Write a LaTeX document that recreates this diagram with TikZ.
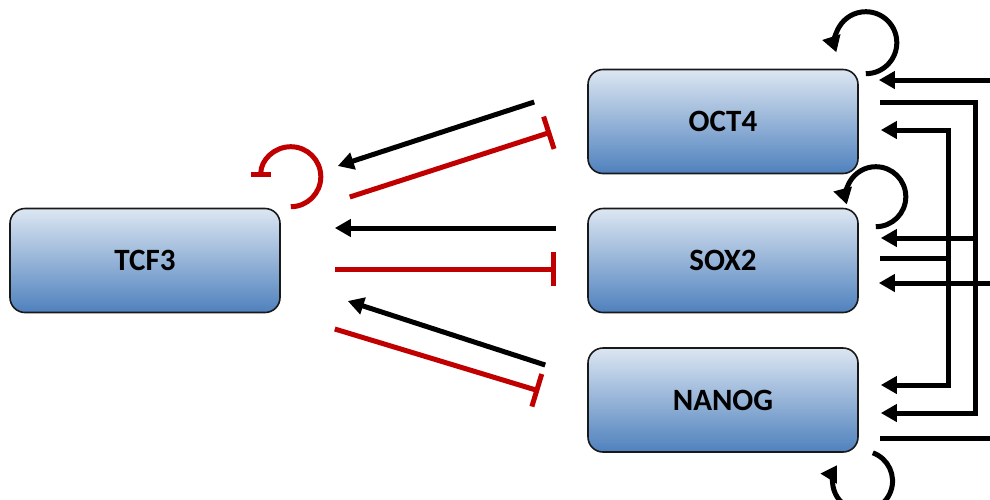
\documentclass[tikz,border=0pt]{standalone}
\usepackage{fontspec}
\setmainfont{Carlito}
\usetikzlibrary{arrows.meta,calc}
\definecolor{redi}{HTML}{C00000}
\definecolor{boxtop}{HTML}{DCE6F2}
\definecolor{boxmid}{HTML}{B6C8E1}
\definecolor{boxbot}{HTML}{4F81BD}
\begin{document}
\begin{tikzpicture}[x=1pt,y=-1pt,
  gene/.style={draw=black!90, line width=1.6pt, rounded corners=15pt,
    top color=boxtop, middle color=boxmid, bottom color=boxbot,
    minimum width=270pt, minimum height=104pt, inner sep=0pt,
    font=\fontsize{31}{37}\selectfont\bfseries},
  wire/.style={draw=black, line width=5pt},
  act/.style={wire, -{Triangle[length=16pt,width=17pt]}},
  inh/.style={draw=redi, line width=5pt, -{Bar[width=34pt]}},
  selfinh/.style={draw=redi, line width=5pt, -{Bar[width=20pt]}},
  loopact/.style={wire, -{Triangle[length=16pt,width=18pt]}}]
\useasboundingbox (0,0) rectangle (990,499);
\clip (0,0) rectangle (990,499);
% genes
\node[gene] (tcf) at (145,260.5) {TCF3};
\node[gene] (oct) at (723,121.5) {OCT4};
\node[gene] (sox) at (723,260.5) {SOX2};
\node[gene] (nan) at (723,400) {NANOG};
% TCF3 self inhibition
\draw[selfinh] ($(tcf.north east)+(10,-1)$) arc[start angle=90, end angle=-180, radius=30];
% OCT4 <-> TCF3
\draw[act] ($(oct.west)+(-53,-19.5)$) -- ($(tcf.east)+(57,-94.5)$);
\draw[inh] ($(tcf.east)+(69,-63.5)$) -- ($(oct.west)+(-36,10.5)$);
% SOX2 <-> TCF3
\draw[act] ($(sox.west)+(-31,-32.5)$) -- ($(tcf.east)+(54,-32.5)$);
\draw[inh] ($(tcf.east)+(54,8.5)$) -- ($(sox.west)+(-31,8.5)$);
% NANOG <-> TCF3
\draw[act] ($(nan.west)+(-42,-35)$) -- ($(tcf.east)+(67,40.5)$);
\draw[inh] ($(tcf.east)+(54,68.5)$) -- ($(nan.west)+(-48,-9)$);
% self loops
\draw[loopact] ($(oct.north east)+(7,5)$) arc[start angle=90, end angle=-198, radius=31];
\draw[loopact] ($(sox.north east)+(17,19)$) arc[start angle=90, end angle=-195, radius=30];
\draw[loopact] ($(nan.south east)+(14,0)$) arc[start angle=-70, end angle=212, radius=30];
% right-side wiring
\coordinate (inO) at (995,80);
\coordinate (inS) at (995,283);
\coordinate (outN) at (995,438);
\draw[act] (inO) -- ($(oct.east)+(20,-41.5)$);
\draw[act] ($(oct.east)+(21,-19.5)$) -| ($(nan.east)+(117,13)$) -- ($(nan.east)+(22,13)$);
\draw[act] ($(sox.east)+(117,-22.5)$) -- ($(sox.east)+(22,-22.5)$);
\draw[wire] ($(sox.east)+(21,-2.5)$) -- ($(sox.east)+(90,-2.5)$);
\draw[act] ($(sox.east)+(90,-2.5)$) |- ($(oct.east)+(22,8.5)$);
\draw[act] ($(sox.east)+(90,-2.5)$) |- ($(nan.east)+(22,-15)$);
\draw[act] (inS) -- ($(sox.east)+(20,22.5)$);
\draw[wire] ($(nan.east)+(21,38)$) -- (outN);
\end{tikzpicture}
\end{document}
